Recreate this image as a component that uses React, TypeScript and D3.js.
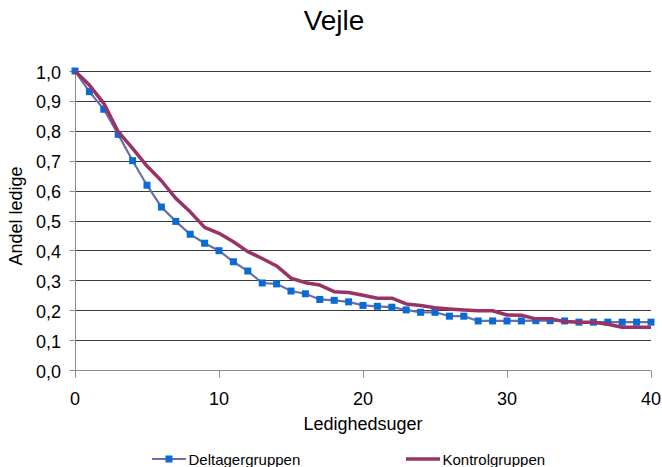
import React from 'react';
import * as d3 from 'd3';

// Andel ledige pr. ledighedsuge (uge 0 - 40)
const deltagergruppen = [
  1.0, 0.931, 0.872, 0.788, 0.700, 0.618, 0.545, 0.497, 0.454, 0.424,
  0.399, 0.362, 0.331, 0.291, 0.288, 0.264, 0.255, 0.236, 0.233, 0.228,
  0.216, 0.213, 0.210, 0.201, 0.193, 0.193, 0.180, 0.180, 0.164, 0.164,
  0.164, 0.164, 0.165, 0.165, 0.164, 0.160, 0.160, 0.160, 0.160, 0.160,
  0.160,
];

const kontrolgruppen = [
  1.0, 0.953, 0.892, 0.797, 0.741, 0.682, 0.633, 0.574, 0.529, 0.477,
  0.457, 0.429, 0.396, 0.373, 0.348, 0.307, 0.292, 0.284, 0.262, 0.259,
  0.250, 0.240, 0.240, 0.221, 0.216, 0.208, 0.204, 0.201, 0.198, 0.198,
  0.184, 0.183, 0.171, 0.171, 0.162, 0.160, 0.160, 0.153, 0.143, 0.143,
  0.143,
];

const xTicks = [0, 10, 20, 30, 40];
const yTicks = [0, 0.1, 0.2, 0.3, 0.4, 0.5, 0.6, 0.7, 0.8, 0.9, 1.0];

const title = 'Vejle';
const xTitle = 'Ledighedsuger';
const yTitle = 'Andel ledige';
const seriesNames = ['Deltagergruppen', 'Kontrolgruppen'];

const W = 662;
const H = 467;
const margin = { top: 71, right: 11, bottom: 97, left: 75 };
const font = 'Arial, "Liberation Sans", sans-serif';

const blueLine = '#6b6ea8';
const blueMarker = '#0a6bd4';
const red = '#993366';

export default function App() {
  const innerW = W - margin.left - margin.right;
  const innerH = H - margin.top - margin.bottom;

  const x = d3.scaleLinear().domain([0, 40]).range([margin.left, margin.left + innerW]);
  const y = d3.scaleLinear().domain([0, 1]).range([margin.top + innerH, margin.top]);

  const line = d3
    .line<number>()
    .x((d, i) => x(i))
    .y((d) => y(d));

  const fmt = (v: number) => d3.format('.1f')(v).replace('.', ',');
  const crisp = (v: number) => Math.round(v) + 0.5;

  const x0 = crisp(x(0));
  const yBase = crisp(y(0));

  return (
    <div style={{ position: 'absolute', left: 0, top: 0 }}>
      <svg width={W} height={H} style={{ display: 'block', background: '#fff' }}>
        {/* gridlines */}
        {yTicks.map((t) => (
          <line
            key={'g' + t}
            x1={x0}
            x2={x(40)}
            y1={crisp(y(t))}
            y2={crisp(y(t))}
            stroke="#3a3a3a"
            strokeWidth={1}
          />
        ))}

        {/* y axis */}
        <line x1={x0} x2={x0} y1={y(1)} y2={yBase + 6} stroke="#8c8c8c" />
        {yTicks.map((t) => (
          <g key={'y' + t}>
            <line x1={x0 - 6} x2={x0} y1={crisp(y(t))} y2={crisp(y(t))} stroke="#8c8c8c" />
            <text
              x={61}
              y={y(t)}
              dy="0.42em"
              textAnchor="end"
              fontFamily={font}
              fontSize={18}
              fill="#000"
            >
              {fmt(t)}
            </text>
          </g>
        ))}

        {/* x axis */}
        <line x1={x0} x2={x(40)} y1={yBase} y2={yBase} stroke="#8c8c8c" />
        {xTicks.map((t) => (
          <g key={'x' + t}>
            <line x1={crisp(x(t))} x2={crisp(x(t))} y1={yBase} y2={yBase + 7} stroke="#8c8c8c" />
            <text
              x={x(t)}
              y={405}
              textAnchor="middle"
              fontFamily={font}
              fontSize={18}
              fill="#000"
            >
              {t}
            </text>
          </g>
        ))}

        {/* series */}
        <path d={line(deltagergruppen) ?? ''} fill="none" stroke={blueLine} strokeWidth={2.2} />
        {deltagergruppen.map((d, i) => (
          <rect
            key={'m' + i}
            x={x(i) - 3.5}
            y={y(d) - 3.5}
            width={7}
            height={7}
            fill={blueMarker}
          />
        ))}
        <path
          d={line(kontrolgruppen) ?? ''}
          fill="none"
          stroke={red}
          strokeWidth={3.5}
          strokeLinejoin="round"
        />

        {/* titles */}
        <text x={334} y={29.5} textAnchor="middle" fontFamily={font} fontSize={28} fill="#000">
          {title}
        </text>
        <text
          x={(x(0) + x(40)) / 2}
          y={430}
          textAnchor="middle"
          fontFamily={font}
          fontSize={18}
          fill="#000"
        >
          {xTitle}
        </text>
        <text
          transform="translate(21.5,216) rotate(-90)"
          textAnchor="middle"
          fontFamily={font}
          fontSize={18}
          fill="#000"
        >
          {yTitle}
        </text>

        {/* legend */}
        <g>
          <line x1={152} x2={186} y1={459} y2={459} stroke={blueLine} strokeWidth={2.2} />
          <rect x={165.5} y={455.5} width={7} height={7} fill={blueMarker} />
          <text x={188.5} y={464.5} fontFamily={font} fontSize={15} fill="#000">
            {seriesNames[0]}
          </text>
          <line x1={406} x2={440} y1={459} y2={459} stroke={red} strokeWidth={3.5} />
          <text x={442.5} y={464.5} fontFamily={font} fontSize={15} fill="#000">
            {seriesNames[1]}
          </text>
        </g>
      </svg>
    </div>
  );
}
